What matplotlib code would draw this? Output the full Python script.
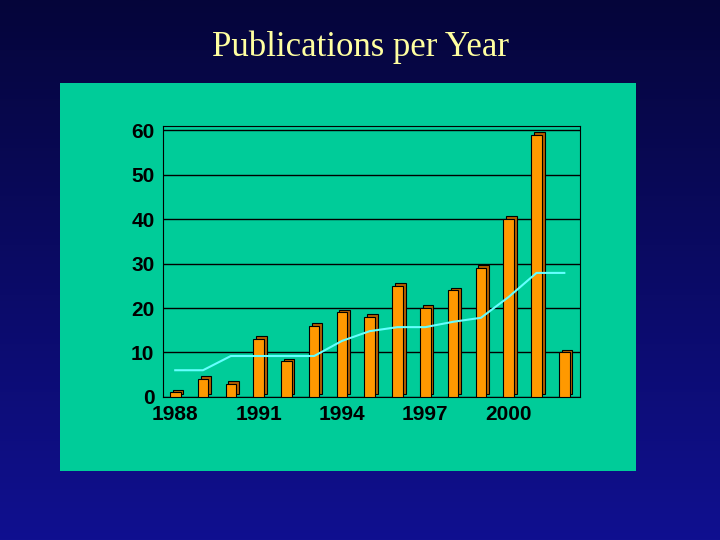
import numpy as np
import matplotlib
matplotlib.use("Agg")
import matplotlib.pyplot as plt
import matplotlib.patches as patches

years = [1988, 1989, 1990, 1991, 1992, 1993, 1994, 1995, 1996, 1997, 1998, 1999, 2000, 2001, 2002]
pubs = [1, 4, 3, 13, 8, 16, 19, 18, 25, 20, 24, 29, 40, 59, 10]
trend = [6, 6, 9.2, 9.2, 9.2, 9.2, 12.6, 14.8, 15.7, 15.7, 16.9, 17.8, 22.5, 27.9, 27.9]
tick_years = [1988, 1991, 1994, 1997, 2000]

fig = plt.figure(figsize=(7.2, 5.4), dpi=100)

# dark blue gradient background plus the green panel
bg = fig.add_axes([0, 0, 1, 1])
grad = np.linspace(0, 1, 256).reshape(-1, 1)
cmap = matplotlib.colors.LinearSegmentedColormap.from_list("bg", ["#05053a", "#101090"])
bg.imshow(grad, aspect="auto", cmap=cmap, extent=[0, 1, 0, 1])
green = "#00cc99"
bg.add_patch(patches.Rectangle((0.083, 0.128), 0.8, 0.719, facecolor=green, edgecolor="none"))
bg.set_xlim(0, 1)
bg.set_ylim(0, 1)
bg.axis("off")

fig.text(0.5, 0.913, "Publications per Year", ha="center", va="center",
         fontsize=25, color="#ffffa0", family="Liberation Serif")

ax = fig.add_axes([0.226, 0.265, 0.579, 0.502])
ax.set_facecolor(green)
x = np.arange(len(years))
w = 0.38
# side/top shading for a 3D look
ax.bar(x + 0.1, pubs, width=w, bottom=0.6, color="#b35f00", edgecolor="black", linewidth=0.8, zorder=2)
ax.bar(x, pubs, width=w, color="#ff9900", edgecolor="black", linewidth=0.8, zorder=3)
ax.plot(x, trend, color="#66ffff", linewidth=1.5, zorder=4)

ax.set_ylim(0, 61)
ax.set_xlim(-0.45, 14.55)
ax.set_yticks(range(0, 61, 10))
ax.yaxis.grid(True, color="black", linewidth=1)
ax.set_axisbelow(True)
ax.set_xticks([years.index(y) for y in tick_years])
ax.set_xticklabels([str(y) for y in tick_years])
for lab in ax.get_xticklabels() + ax.get_yticklabels():
    lab.set_fontweight("bold")
    lab.set_fontsize(15)
    lab.set_family("Liberation Sans")
ax.tick_params(length=0, pad=6)
for s in ax.spines.values():
    s.set_color("black")

fig.savefig("out.png", dpi=100)
